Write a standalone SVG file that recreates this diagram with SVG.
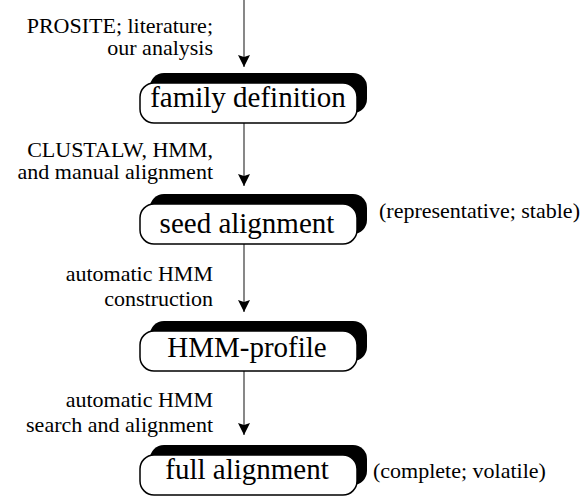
<svg xmlns="http://www.w3.org/2000/svg" width="583" height="500" viewBox="0 0 583 500">
<style>
text{font-family:'Liberation Serif','Times New Roman',serif;fill:#000}
.shadow{fill:#000}
.box{fill:#fff;stroke:#000;stroke-width:1.5}
.main{font-size:29px;text-anchor:middle}
.lab{font-size:22px;text-anchor:end}
.side{font-size:22px}
.conn{stroke:#555;stroke-width:1.4;fill:none}
</style>
<defs>
<marker id="ah" markerUnits="userSpaceOnUse" markerWidth="14" markerHeight="14" viewBox="-13 -7 14 14" refX="0" refY="0" orient="auto">
<path d="M-12,-6 L0,0 L-12,6 L-10,0 Z" fill="#000"/>
</marker>
</defs>
<g id="connectors">
<line class="conn" x1="244" y1="0" x2="244" y2="67" marker-end="url(#ah)"/>
<line class="conn" x1="244" y1="123" x2="244" y2="186" marker-end="url(#ah)"/>
<line class="conn" x1="244" y1="244" x2="244" y2="312" marker-end="url(#ah)"/>
<line class="conn" x1="244" y1="371" x2="244" y2="435" marker-end="url(#ah)"/>
</g>
<g id="labels">
<text class="lab" x="213" y="33">PROSITE; literature;</text>
<text class="lab" x="213" y="55">our analysis</text>
<text class="lab" x="213" y="157">CLUSTALW, HMM,</text>
<text class="lab" x="213" y="179">and manual alignment</text>
<text class="lab" x="213" y="281">automatic HMM</text>
<text class="lab" x="213" y="306">construction</text>
<text class="lab" x="213" y="407">automatic HMM</text>
<text class="lab" x="213" y="432">search and alignment</text>
<text class="side" x="379" y="218">(representative; stable)</text>
<text class="side" x="373" y="478">(complete; volatile)</text>
</g>
<g id="family-definition">
<rect class="shadow" x="150" y="73" width="217" height="40" rx="14"/>
<rect class="box" x="140" y="83" width="217" height="40" rx="14"/>
<text class="main" x="248" y="107">family definition</text>
</g>
<g id="seed-alignment">
<rect class="shadow" x="150" y="194" width="217" height="40" rx="14"/>
<rect class="box" x="140" y="204" width="217" height="40" rx="14"/>
<text class="main" x="247" y="233">seed alignment</text>
</g>
<g id="hmm-profile">
<rect class="shadow" x="150" y="321" width="217" height="40" rx="14"/>
<rect class="box" x="140" y="331" width="217" height="40" rx="14"/>
<text class="main" x="247" y="357">HMM-profile</text>
</g>
<g id="full-alignment">
<rect class="shadow" x="150" y="445" width="217" height="40" rx="14"/>
<rect class="box" x="140" y="455" width="217" height="40" rx="14"/>
<text class="main" x="247" y="479">full alignment</text>
</g>
</svg>
